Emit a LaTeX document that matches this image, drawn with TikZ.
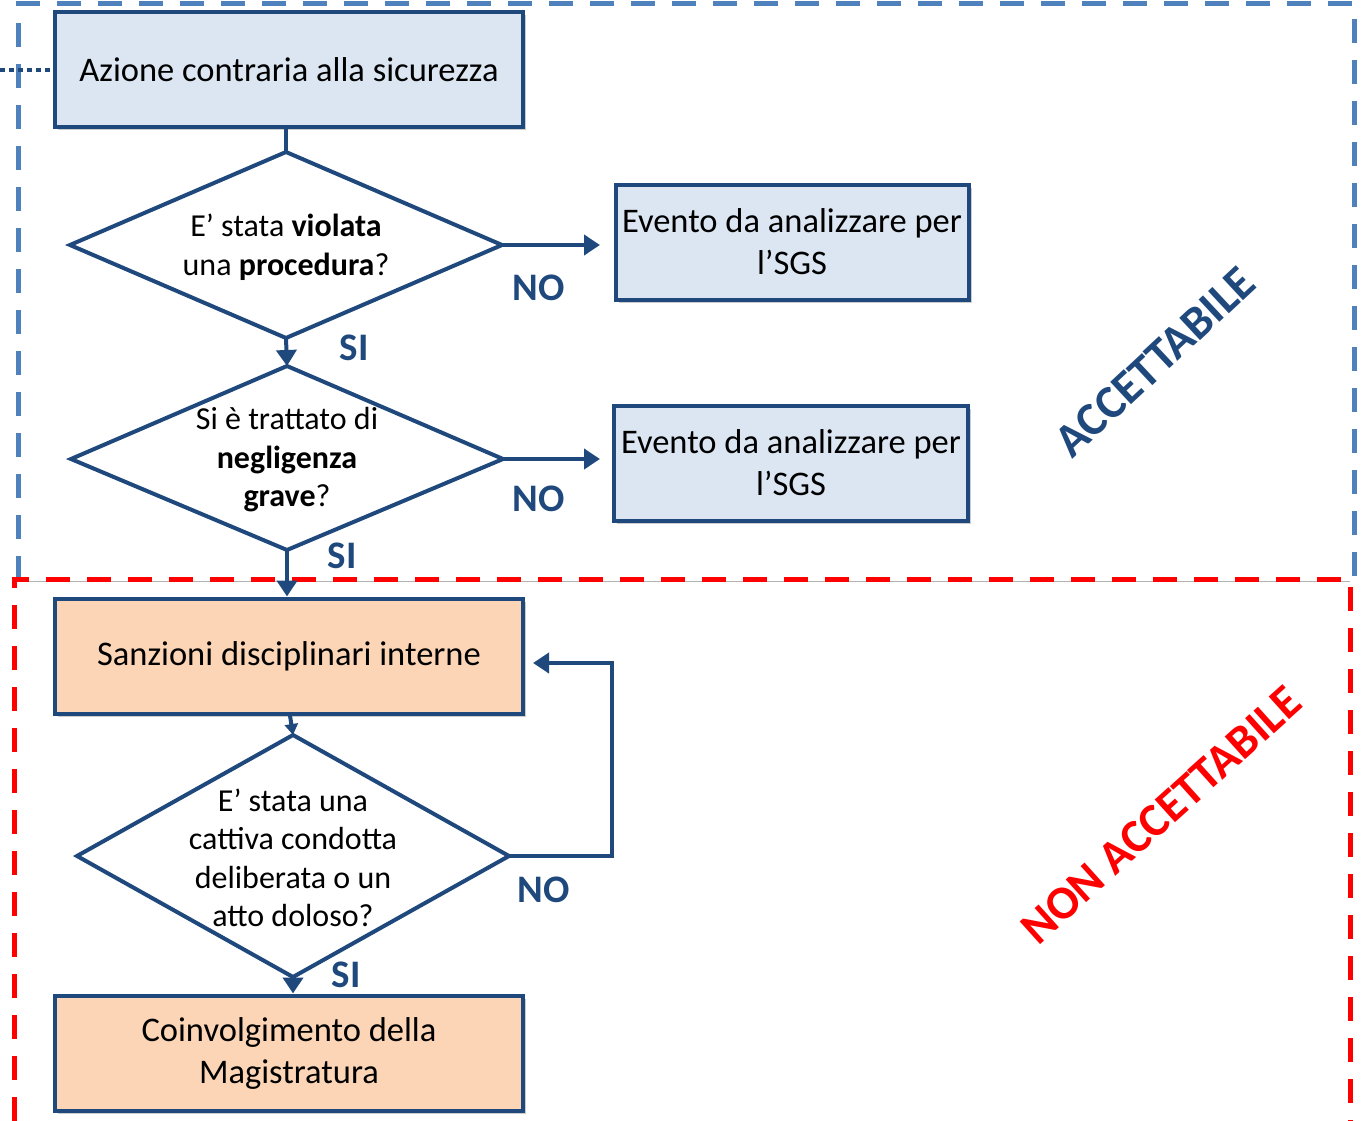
\documentclass[tikz,border=0pt]{standalone}
\usepackage{fontspec}
\setmainfont{Carlito}
\usetikzlibrary{shapes.geometric,arrows.meta,shadows}
\definecolor{dblue}{RGB}{31,73,125}
\definecolor{lblue}{RGB}{220,230,242}
\definecolor{lorange}{RGB}{251,213,181}
\definecolor{dashblue}{RGB}{79,129,189}
\definecolor{dashred}{RGB}{255,0,0}
\tikzset{
  boxbase/.style={draw=dblue, line width=4pt, minimum width=468pt, minimum height=115pt, inner sep=0pt, align=center, font=\fontsize{34.5}{42}\selectfont,
    drop shadow={shadow xshift=3pt, shadow yshift=-3pt, fill=black, opacity=0.2}},
  bluebox/.style={boxbase, fill=lblue},
  orangebox/.style={boxbase, fill=lorange},
  dshape/.style={draw=dblue, line width=4pt, fill=white, line join=miter},
  dtext/.style={align=center, inner sep=0pt, font=\fontsize{32}{38.5}\selectfont},
  lbl/.style={text=dblue, font=\fontsize{39}{40}\selectfont\bfseries, inner sep=0pt},
  conn/.style={draw=dblue, line width=4pt},
  arr/.style={conn, -{Triangle[length=16pt,width=20pt]}},
  zone/.style={line width=5pt, dash pattern=on 24pt off 17pt},
}
\begin{document}
\begin{tikzpicture}[x=1pt,y=-1pt]
\useasboundingbox (0,0) rectangle (1363,1121);
% zone frames
\draw[zone, draw=dashblue] (18,580) -- (18,4) -- (1354,4) -- (1354,580);
\draw[gray!60, line width=1pt] (14,581) -- (1350,581);
\draw[zone, draw=dashred] (14,1121) -- (14,579) -- (1350,579) -- (1350,1121);
% nodes
\node[bluebox] (a) at (289,70) {Azione contraria alla sicurezza};
\coordinate (dl) at (0,70);
\draw[dblue, line width=4pt, dash pattern=on 5pt off 4pt] (dl) -- (a.west);

\node[bluebox, minimum width=353pt] (e1) at (792,242) {Evento da analizzare per\\l’SGS};
\node[bluebox, minimum width=354pt] (e2) at (791,463) {Evento da analizzare per\\l’SGS};

\node[orangebox] (s) at (289,656) {Sanzioni disciplinari interne};
\node[orangebox] (m) at (289,1053) {Coinvolgimento della\\Magistratura};

% diamonds
\draw[dshape] (70,245) -- (286,152) -- (502,245) -- (286,338) -- cycle;
\coordinate (d1t) at (286,152); \coordinate (d1r) at (502,245); \coordinate (d1b) at (286,338);
\node[dtext] (d1) at (286,247) {E’ stata \textbf{violata}\\una \textbf{procedura}?};

\draw[dshape] (71,459) -- (287,366) -- (503,459) -- (287,550) -- cycle;
\coordinate (d2t) at (287,366); \coordinate (d2r) at (503,459); \coordinate (d2b) at (287,550);
\node[dtext] (d2) at (287,460) {Si è trattato di\\\textbf{negligenza}\\\textbf{grave}?};

\draw[dshape] (77,856) -- (293,735) -- (509,856) -- (293,977) -- cycle;
\coordinate (d3t) at (293,735); \coordinate (d3r) at (509,856); \coordinate (d3b) at (293,977);
\node[dtext] (d3) at (293,858) {E’ stata una\\cattiva condotta\\deliberata o un\\atto doloso?};

% connectors
\draw[conn] (a.south -| d1t) -- (d1t);
\draw[arr] (d1r) -- (600,245) coordinate (n1);
\draw[arr] (d1b) -- (d2t);
\draw[arr] (d2r) -- (600,459) coordinate (n2);
\draw[arr] (d2b) -- (s.north -| d2b);
\draw[arr, -{Triangle[length=11pt,width=13pt]}] (s.south -| 290,0) -- (d3t);
\draw[arr] (d3r) -- (612,856) -- (612,663) -- (533,663) coordinate (n3);
\draw[arr] (d3b) -- (m.north -| d3b);

% labels
\node[lbl] (no1) at (539,288) {NO};
\node[lbl] (si1) at (354,348) {SI};
\node[lbl] (no2) at (539,499) {NO};
\node[lbl] (si2) at (342,556) {SI};
\node[lbl] (no3) at (544,890) {NO};
\node[lbl] (si3) at (346,975) {SI};

\node[text=dblue, font=\fontsize{47}{50}\selectfont\bfseries, rotate=43] (acc) at (1155,362) {ACCETTABILE};
\node[text=dashred, font=\fontsize{47}{50}\selectfont\bfseries, rotate=42] (nacc) at (1161,815) {NON ACCETTABILE};
\end{tikzpicture}
\end{document}
